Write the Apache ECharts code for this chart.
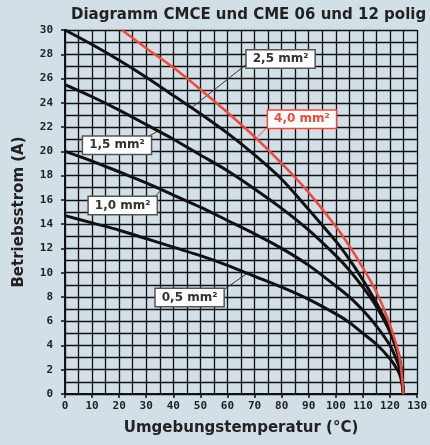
<!DOCTYPE html>
<html>
<head>
<meta charset="utf-8">
<script src="https://cdn.jsdelivr.net/npm/echarts@6/dist/echarts.min.js"></script>
<style>
  html, body { margin: 0; padding: 0; background: #d3dfe7; }
  #chart { width: 430px; height: 445px; }
</style>
</head>
<body>
<div id="chart"></div>
<script>
var temps = [0, 10, 20, 30, 40, 50, 60, 70, 80, 90, 100, 105, 110, 115, 120, 123, 124, 125];
var tempsRed = [21, 30, 40, 50, 60, 70, 80, 90, 100, 105, 110, 115, 120, 123, 124, 125];

// current (A) per cross-section
var i05 = [14.7, 14.1, 13.5, 12.8, 12.1, 11.4, 10.6, 9.7, 8.8, 7.8, 6.6, 5.9, 5.0, 4.1, 2.9, 1.9, 1.3, 0];
var i10 = [20.0, 19.2, 18.3, 17.4, 16.4, 15.4, 14.3, 13.2, 12.0, 10.6, 8.9, 8.0, 6.9, 5.6, 4.0, 2.5, 1.8, 0];
var i15 = [25.5, 24.5, 23.4, 22.2, 21.0, 19.7, 18.4, 16.9, 15.3, 13.5, 11.4, 10.2, 8.8, 7.2, 5.1, 3.2, 2.2, 0];
var i25 = [30.0, 28.8, 27.5, 26.1, 24.6, 23.1, 21.5, 19.7, 17.7, 15.2, 12.6, 11.1, 9.4, 7.5, 5.3, 3.4, 2.3, 0];
var i40 = [30.0, 28.5, 26.9, 25.1, 23.2, 21.2, 19.0, 16.6, 13.8, 12.2, 10.4, 8.4, 5.7, 3.5, 2.3, 0];

// label text, label centre, leader line (curve point -> box corner)
var labels = [
  { name: '0,5 mm²', at: [46.0, 7.96], from: [67.0, 9.9], to: [59.0, 8.66] },
  { name: '1,0 mm²', at: [21.3, 15.54], from: [35.7, 16.84], to: [33.3, 16.3] },
  { name: '1,5 mm²', at: [19.2, 20.5], from: [34.5, 21.7], to: [31.0, 21.25] },
  { name: '2,5 mm²', at: [79.6, 27.6], from: [46.8, 23.6], to: [67.4, 27.25] },
  { name: '4,0 mm²', at: [87.5, 22.65], from: [71.2, 21.2], to: [74.3, 21.9] }
];

function pairs(xs, ys) {
  var out = [];
  for (var k = 0; k < xs.length; k++) out.push([xs[k], ys[k]]);
  return out;
}

var chart = echarts.init(document.getElementById('chart'));

var black = '#111';
var red = '#ef4a3b';
var mono = 'DejaVu Sans Mono';

function makeSeries(name, data, color, width, lab) {
  var isRed = color === red;
  return {
    name: name,
    type: 'line',
    data: data,
    symbol: 'none',
    smooth: 0.3,
    lineStyle: { color: color, width: width },
    z: isRed ? 12 : 10,
    markLine: {
      silent: true,
      symbol: ['none', 'none'],
      lineStyle: { color: isRed ? red : '#333', width: 1, type: 'solid' },
      label: { show: false },
      data: [[{ coord: lab.from }, { coord: lab.to }]]
    },
    markPoint: {
      silent: true,
      symbol: 'rect',
      symbolSize: 0,
      label: {
        show: true,
        position: 'inside',
        formatter: lab.name,
        color: isRed ? red : '#333',
        fontFamily: 'DejaVu Sans',
        fontWeight: 'bold',
        fontSize: 12,
        backgroundColor: '#fff',
        borderColor: isRed ? red : '#555',
        borderWidth: 1.5,
        padding: [3, 6, 2, 6]
      },
      data: [{ coord: lab.at }]
    }
  };
}

var option = {
  backgroundColor: '#d3dfe7',
  animation: false,
  title: {
    text: 'Diagramm CMCE und CME 06 und 12 polig',
    left: 66,
    top: 3,
    textStyle: { fontFamily: 'DejaVu Sans', fontWeight: 'bold', fontSize: 15, color: '#222' }
  },
  grid: { left: 65, right: 12, top: 30, bottom: 51 },
  xAxis: {
    type: 'value',
    min: 0,
    max: 130,
    interval: 10,
    z: 0,
    name: 'Umgebungstemperatur (°C)',
    nameLocation: 'middle',
    nameGap: 27,
    nameTextStyle: { fontFamily: 'DejaVu Sans', fontWeight: 'bold', fontSize: 15, color: '#222' },
    axisLine: { lineStyle: { color: black, width: 2 } },
    axisTick: { length: 4, lineStyle: { color: black, width: 1.5 } },
    axisLabel: { margin: 7, fontFamily: mono, fontWeight: 'bold', fontSize: 11, color: '#222' },
    splitLine: { lineStyle: { color: black, width: 1.3 } },
    minorTick: { show: false, splitNumber: 2 },
    minorSplitLine: { show: true, lineStyle: { color: black, width: 1.3 } }
  },
  yAxis: {
    type: 'value',
    min: 0,
    max: 30,
    interval: 2,
    z: 0,
    name: 'Betriebsstrom (A)',
    nameLocation: 'middle',
    nameGap: 38,
    nameTextStyle: { fontFamily: 'DejaVu Sans', fontWeight: 'bold', fontSize: 15, color: '#222' },
    axisLine: { show: true, lineStyle: { color: black, width: 2 } },
    axisTick: { show: true, length: 4, lineStyle: { color: black, width: 1.5 } },
    axisLabel: { margin: 12, fontFamily: mono, fontWeight: 'bold', fontSize: 11, color: '#222' },
    splitLine: { lineStyle: { color: black, width: 1.3 } },
    minorTick: { show: false, splitNumber: 2 },
    minorSplitLine: { show: true, lineStyle: { color: black, width: 1.3 } }
  },
  series: [
    makeSeries('0,5 mm²', pairs(temps, i05), black, 3, labels[0]),
    makeSeries('1,0 mm²', pairs(temps, i10), black, 3, labels[1]),
    makeSeries('1,5 mm²', pairs(temps, i15), black, 3, labels[2]),
    makeSeries('2,5 mm²', pairs(temps, i25), black, 3, labels[3]),
    makeSeries('4,0 mm²', pairs(tempsRed, i40), red, 2.5, labels[4])
  ]
};

chart.setOption(option);
</script>
</body>
</html>
